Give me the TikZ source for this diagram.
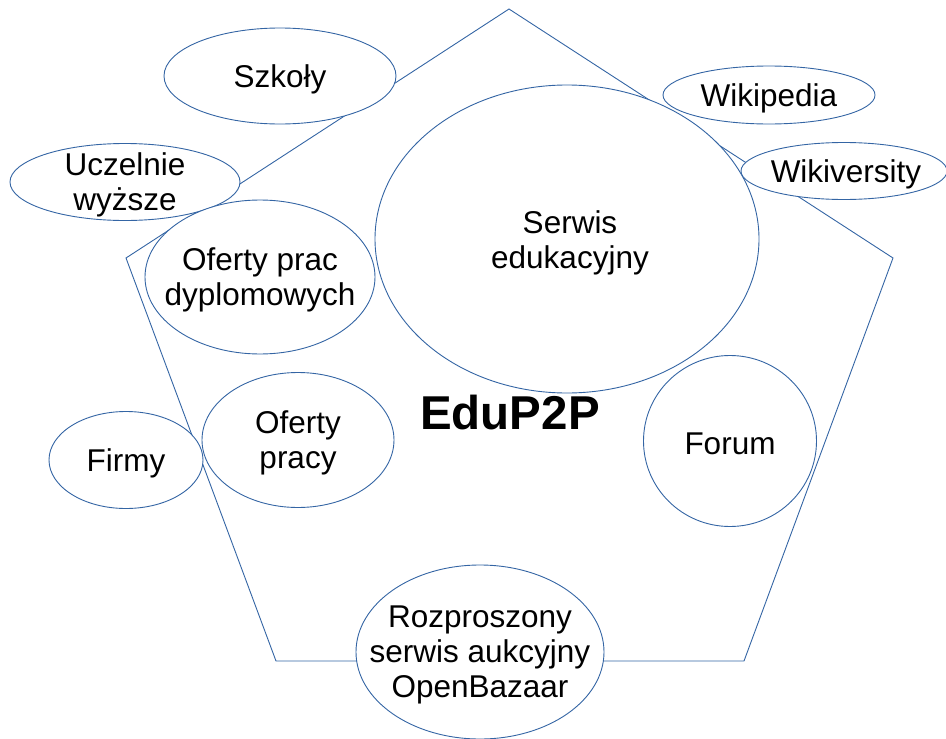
\documentclass[tikz,border=0pt]{standalone}
\usepackage{fontspec}
\setmainfont{Liberation Sans}
\usepackage{xcolor}
\usepackage{tikz}
\usetikzlibrary{shapes.geometric}
\definecolor{edge}{HTML}{3465A4}
\definecolor{ink}{HTML}{000000}
\tikzset{
  frame/.style={draw=edge, line width=0.9pt, line join=miter},
  bub/.style={ellipse, draw=edge, fill=white, line width=0.9pt, inner sep=0pt},
  txt/.style={text=ink, align=center, inner sep=0pt, yshift=-3pt, font=\fontsize{31.5}{35}\selectfont},
  title/.style={text=ink, inner sep=0pt, font=\fontsize{47.5}{52}\selectfont\bfseries}
}

\begin{document}
\begin{tikzpicture}[x=1pt,y=-1pt]
  \useasboundingbox (0,0) rectangle (946,739);

  % pentagon behind the bubbles
  \coordinate (top) at (509,9);
  \coordinate (right) at (893,258);
  \coordinate (bright) at (744,661);
  \coordinate (bleft) at (276,661);
  \coordinate (left) at (126,258);
  \draw[frame] (top) -- (right) -- (bright) -- (bleft) -- (left) -- cycle;

  \node[bub, minimum width=232, minimum height=96] (szkoly) at (280,76) {};
  \node[bub, minimum width=212, minimum height=58] (wikipedia) at (769,95) {};
  \node[bub, minimum width=384, minimum height=308] (serwis) at (567,239) {};
  \node[bub, minimum width=206, minimum height=57] (wikiversity) at (844,171) {};
  \node[bub, minimum width=230, minimum height=77] (uczelnie) at (125,182) {};
  \node[bub, minimum width=230, minimum height=154] (dyplom) at (260,277) {};
  \node[bub, minimum width=154, minimum height=97] (firmy) at (126,460) {};
  \node[bub, minimum width=192, minimum height=135] (praca) at (298,440) {};
  \node[bub, minimum width=173, minimum height=171] (forum) at (730,441) {};
  \node[bub, minimum width=248, minimum height=174] (aukcje) at (480,652) {};

  \node[txt] (szkoly-t) at (szkoly) {Szkoły};
  \node[txt] (wikipedia-t) at (wikipedia) {Wikipedia};
  \node[txt] (serwis-t) at (570,240) {Serwis\\edukacyjny};
  \node[txt] (wikiversity-t) at (846,171) {Wikiversity};
  \node[txt] (uczelnie-t) at (uczelnie) {Uczelnie\\wyższe};
  \node[txt] (dyplom-t) at (dyplom) {Oferty prac\\dyplomowych};
  \node[txt] (firmy-t) at (firmy) {Firmy};
  \node[txt] (praca-t) at (praca) {Oferty\\pracy};
  \node[txt] (forum-t) at (forum) {Forum};
  \node[txt] (aukcje-t) at (aukcje) {Rozproszony\\serwis aukcyjny\\OpenBazaar};

  \node[title] (edu) at (510,413) {EduP2P};
\end{tikzpicture}
\end{document}
